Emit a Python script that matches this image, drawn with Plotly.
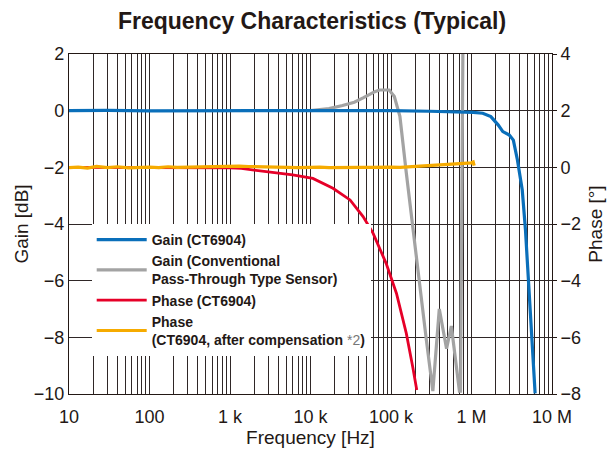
import plotly.graph_objects as go

# ---------------- data ----------------
gain_ct_f = [10, 30, 100, 300, 1e3, 3e3, 1e4, 3e4, 1e5, 3e5, 6e5, 1.05e6, 1.38e6, 1.74e6, 2.14e6,
             2.45e6, 2.95e6, 3.31e6, 3.72e6, 4.27e6, 4.68e6, 5.13e6, 5.62e6, 6.17e6]
gain_ct_v = [0.0, 0.01, -0.01, 0.0, 0.01, 0.0, 0.0, 0.01, 0.0, -0.02, -0.03, -0.06, -0.09, -0.21, -0.5,
             -0.74, -0.86, -1.04, -1.74, -2.8, -4.2, -5.98, -7.86, -9.98]

gain_conv_f = [10e3, 17e3, 25e3, 35e3, 45e3, 56e3, 63e3, 72e3, 95e3, 110e3, 129e3, 155e3, 186e3,
               224e3, 275e3, 331e3, 398e3, 490e3, 562e3, 708e3, 730e3, 790e3]
gain_conv_v = [0.0, 0.07, 0.18, 0.3, 0.45, 0.6, 0.67, 0.73, 0.73, 0.5, -0.2, -2.2, -4.1,
               -6.1, -8.1, -9.9, -7.0, -8.4, -7.6, -9.9, -9.9, 4.0]

phase_ct_f = [10, 100, 1e3, 1.38e3, 3.4e3, 6e3, 10.7e3, 19e3, 31e3, 45e3, 60e3, 87e3, 117e3, 155e3,
              186e3, 209e3]
phase_ct_v = [0.0, 0.0, -0.02, -0.04, -0.18, -0.27, -0.39, -0.74, -1.15, -1.74, -2.33, -3.39, -4.45,
              -5.86, -7.04, -7.86]

phase_comp_f = [10, 13, 17, 22, 30, 40, 55, 70, 100, 130, 170, 220, 300, 400, 550, 700, 1000, 1300,
                1700, 2200, 3000, 4000, 5500, 7000, 10000, 13000, 17000, 22000, 30000, 40000, 55000,
                70000, 100000, 130000, 170000, 220000, 300000, 400000, 550000, 700000, 850000,
                1000000, 1050000, 1080000]
phase_comp_v = [-0.01, 0.01, -0.03, 0.03, -0.01, 0.02, -0.02, 0.0, 0.01, -0.01, 0.02, 0.0, 0.01, 0.02,
                0.03, 0.04, 0.05, 0.04, 0.03, 0.02, 0.01, 0.0, 0.01, -0.01, 0.0, 0.01, -0.01, 0.0,
                0.01, 0.0, 0.0, 0.01, 0.01, 0.0, 0.02, 0.03, 0.05, 0.08, 0.1, 0.12, 0.15, 0.16, 0.19, 0.06]

decade_vals = [10, 100, 1e3, 1e4, 1e5, 1e6, 1e7]
decade_text = ["10", "100", "1 k", "10 k", "100 k", "1 M", "10 M"]

gain_ticks = [2, 0, -2, -4, -6, -8, -10]
phase_ticks = [4, 2, 0, -2, -4, -6, -8]

# ---------------- figure ----------------
FONT = "Liberation Sans, Arial, sans-serif"
TXT = "#231815"

tickvals = []
ticktext = []
for d in decade_vals[:-1]:
    for k in range(1, 10):
        tickvals.append(d * k)
        ticktext.append(decade_text[decade_vals.index(d)] if k == 1 else "")
tickvals.append(decade_vals[-1])
ticktext.append(decade_text[-1])

fig = go.Figure()

fig.add_trace(go.Scatter(x=gain_conv_f, y=gain_conv_v, mode="lines",
                         name="<b>Gain (Conventional<br>Pass-Through Type Sensor)</b>",
                         line=dict(color="#a3a3a3", width=3.2), legendrank=2))
fig.add_trace(go.Scatter(x=gain_ct_f, y=gain_ct_v, mode="lines",
                         name="<b>Gain (CT6904)</b>",
                         line=dict(color="#0a6fba", width=3.2), legendrank=1))
fig.add_trace(go.Scatter(x=phase_ct_f, y=phase_ct_v, mode="lines", yaxis="y2",
                         name="<b>Phase (CT6904)</b>",
                         line=dict(color="#e60028", width=2.8), legendrank=3))
fig.add_trace(go.Scatter(x=phase_comp_f, y=phase_comp_v, mode="lines", yaxis="y2",
                         name="<b>Phase<br>(CT6904, after compensation</b> <span style='color:#777'>*2</span><b>)</b>",
                         line=dict(color="#f6ab00", width=3.2), legendrank=4))

# page body has an 8px margin, so the figure is 8px smaller and margins shifted
fig.update_layout(
    width=608, height=450,
    margin=dict(l=61, r=64, t=46, b=64, autoexpand=False),
    paper_bgcolor="white", plot_bgcolor="white",
    font=dict(family=FONT, color=TXT, size=16),
    title=dict(text="<b>Frequency Characteristics (Typical)</b>", x=0.5, xanchor="center",
               y=0.99, yanchor="top", font=dict(size=23, color=TXT, family=FONT)),
    xaxis=dict(type="log", range=[1, 7], tickvals=tickvals, ticktext=ticktext,
               showgrid=True, gridcolor="#2f2727", gridwidth=0.9, ticks="", automargin=False,
               showline=True, linecolor=TXT, linewidth=1.2, mirror=True,
               tickfont=dict(size=18), zeroline=False, ticklabelstandoff=6,
               title=dict(text="Frequency [Hz]", font=dict(size=19), standoff=1)),
    yaxis=dict(range=[-10, 2], tickvals=gain_ticks, showgrid=True, gridcolor="#2f2727",
               gridwidth=0.9, zeroline=False, ticks="", showline=True, linecolor=TXT,
               linewidth=1.2, mirror=True, tickfont=dict(size=18), automargin=False,
               title=dict(text="Gain [dB]", font=dict(size=19), standoff=0)),
    yaxis2=dict(range=[-8, 4], tickvals=phase_ticks, overlaying="y", side="right",
                showgrid=False, zeroline=False, ticks="outside", ticklen=4, tickcolor=TXT,
                tickfont=dict(size=18), automargin=False,
                title=dict(text="Phase [°]", font=dict(size=19), standoff=8)),
    legend=dict(x=0.047, y=0.5, xanchor="left", yanchor="top", bgcolor="white",
                borderwidth=0, font=dict(size=14, color=TXT, family=FONT),
                traceorder="normal", itemwidth=50),
    showlegend=True,
)

fig.write_html("out.html")
